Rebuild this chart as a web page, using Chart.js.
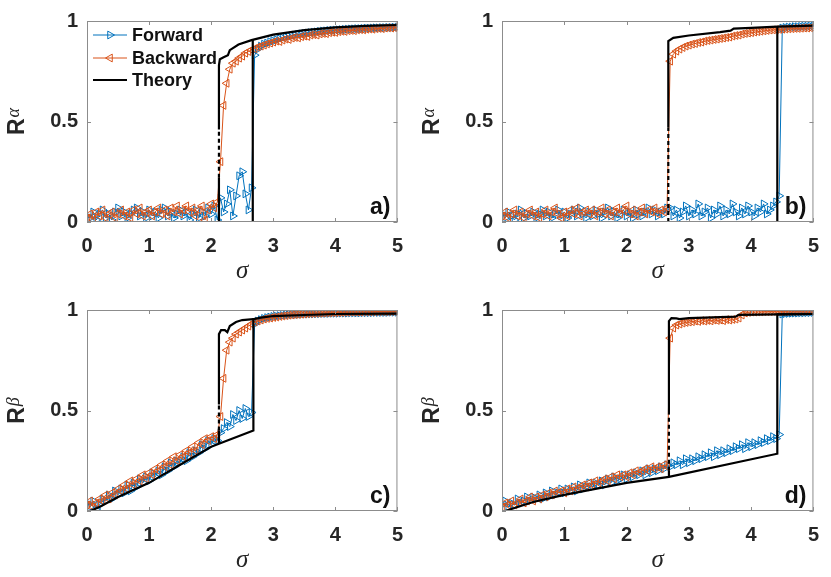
<!DOCTYPE html>
<html>
<head>
<meta charset="utf-8">
<script src="https://cdn.jsdelivr.net/npm/chart.js@4.4.1/dist/chart.umd.min.js"></script>
<style>
  body { margin: 0; background: #fff; width: 831px; height: 577px; position: relative; overflow: hidden; }
  canvas { position: absolute; }
</style>
</head>
<body>
<canvas id="pa" width="415" height="288" style="left:0;top:0"></canvas>
<canvas id="pb" width="416" height="288" style="left:415px;top:0"></canvas>
<canvas id="pc" width="415" height="288" style="left:0;top:289px"></canvas>
<canvas id="pd" width="416" height="288" style="left:415px;top:289px"></canvas>
<script>
// sigma (valeurs communes aux series mesurees)
const sigma = [
  0,0.05,0.1,0.15,0.2,0.25,0.3,0.35,0.4,0.45,
  0.5,0.55,0.6,0.65,0.7,0.75,0.8,0.85,0.9,0.95,
  1,1.05,1.1,1.15,1.2,1.25,1.3,1.35,1.4,1.45,
  1.5,1.55,1.6,1.65,1.7,1.75,1.8,1.85,1.9,1.95,
  2,2.05,2.1,2.15,2.2,2.25,2.3,2.35,2.4,2.45,
  2.5,2.55,2.6,2.65,2.7,2.75,2.8,2.85,2.9,2.95,
  3,3.05,3.1,3.15,3.2,3.25,3.3,3.35,3.4,3.45,
  3.5,3.55,3.6,3.65,3.7,3.75,3.8,3.85,3.9,3.95,
  4,4.05,4.1,4.15,4.2,4.25,4.3,4.35,4.4,4.45,
  4.5,4.55,4.6,4.65,4.7,4.75,4.8,4.85,4.9,4.95,
  5
];
const xTicks = [0, 1, 2, 3, 4, 5];
const yTicks = [0, 0.5, 1];

// panel a) R alpha
const fwdA = [
  0.03,0.02,0.05,0.01,0.04,0.06,0.02,0.04,0.01,0.05,
  0.07,0.03,0.05,0.02,0.04,0.06,0.07,0.03,0.05,0.02,
  0.06,0.03,0.05,0.02,0.06,0.07,0.03,0.05,0.02,0.04,
  0.06,0.03,0.05,0.01,0.04,0.06,0.02,0.05,0.03,0.07,
  0.04,0.08,0.01,0.12,0.05,0.09,0.16,0.03,0.13,0.23,
  0.25,0.14,0.06,0.17,0.83,0.86,0.875,0.885,0.89,0.897,
  0.902,0.907,0.912,0.916,0.92,0.924,0.927,0.93,0.933,0.936,
  0.938,0.94,0.942,0.944,0.946,0.948,0.95,0.951,0.953,0.954,
  0.955,0.956,0.957,0.958,0.959,0.96,0.961,0.962,0.962,0.963,
  0.964,0.964,0.965,0.966,0.966,0.967,0.967,0.968,0.968,0.969,0.97
];
const bwdA = [
  0.02,0.04,0.01,0.05,0.03,0.06,0.02,0.04,0.05,0.02,
  0.04,0.06,0.03,0.05,0.02,0.06,0.04,0.07,0.03,0.05,
  0.06,0.03,0.05,0.07,0.04,0.06,0.03,0.07,0.05,0.08,
  0.04,0.06,0.08,0.05,0.07,0.03,0.06,0.08,0.01,0.06,
  0.09,0.07,0.1,0.3,0.58,0.69,0.76,0.79,0.8,0.815,
  0.825,0.84,0.848,0.856,0.862,0.87,0.875,0.88,0.886,0.89,
  0.895,0.9,0.898,0.905,0.91,0.908,0.915,0.918,0.916,0.922,
  0.925,0.923,0.93,0.932,0.93,0.936,0.938,0.937,0.942,0.944,
  0.943,0.947,0.949,0.948,0.952,0.953,0.952,0.956,0.957,0.956,
  0.959,0.96,0.959,0.962,0.963,0.962,0.965,0.966,0.965,0.967,0.968
];
const thLowAx = [0, 2.67, 2.67];
const thLowAy = [0, 0, 0.905];
const thUpAx = [2.125, 2.125, 2.14, 2.2, 2.27, 2.3, 2.44, 2.65, 3.0, 3.5, 4.0, 4.5, 5.0];
const thUpAy = [0.46, 0.78, 0.81, 0.82, 0.83, 0.855, 0.883, 0.905, 0.932, 0.955, 0.968, 0.976, 0.98];
const thStubAx = [2.125, 2.125];
const thStubAy = [0, 0.22];
const thDashAx = [2.125, 2.125];
const thDashAy = [0.22, 0.46];

// panel b) R alpha
const fwdB = [
  0.04,0.02,0.05,0.03,0.01,0.04,0.06,0.02,0.04,0.03,
  0.05,0.02,0.04,0.06,0.03,0.05,0.02,0.04,0.06,0.03,
  0.05,0.02,0.04,0.06,0.03,0.07,0.04,0.02,0.05,0.03,
  0.06,0.04,0.02,0.05,0.07,0.03,0.05,0.02,0.04,0.06,
  0.03,0.05,0.02,0.06,0.04,0.03,0.05,0.07,0.04,0.06,
  0.03,0.05,0.04,0.07,0.07,0.03,0.06,0.02,0.05,0.08,
  0.03,0.06,0.04,0.09,0.03,0.05,0.07,0.02,0.06,0.04,
  0.08,0.03,0.06,0.04,0.09,0.05,0.03,0.07,0.04,0.08,
  0.05,0.03,0.07,0.05,0.09,0.04,0.06,0.08,0.1,0.13,
  0.965,0.968,0.97,0.97,0.972,0.972,0.973,0.974,0.974,0.975,0.975
];
const bwdB = [
  0.03,0.05,0.02,0.04,0.06,0.03,0.05,0.02,0.04,0.06,
  0.03,0.05,0.02,0.04,0.06,0.03,0.05,0.07,0.04,0.02,
  0.05,0.03,0.06,0.04,0.07,0.03,0.05,0.06,0.04,0.06,
  0.03,0.05,0.07,0.04,0.06,0.03,0.05,0.07,0.04,0.06,
  0.08,0.04,0.06,0.03,0.05,0.07,0.04,0.06,0.05,0.07,
  0.04,0.06,0.05,0.07,0.8,0.835,0.85,0.86,0.868,0.875,
  0.88,0.885,0.888,0.893,0.895,0.9,0.903,0.905,0.908,0.91,
  0.913,0.915,0.918,0.92,0.925,0.928,0.93,0.935,0.938,0.94,
  0.942,0.945,0.947,0.949,0.951,0.953,0.955,0.956,0.957,0.958,
  0.959,0.96,0.961,0.962,0.963,0.963,0.964,0.965,0.965,0.966,0.966
];
const thLowBx = [0, 4.42, 4.42];
const thLowBy = [0, 0, 0.972];
const thUpBx = [2.67, 2.67, 2.75, 3.0, 3.5, 3.67, 3.72, 4.0, 4.42, 5.0];
const thUpBy = [0.47, 0.9, 0.916, 0.928, 0.945, 0.952, 0.962, 0.966, 0.972, 0.977];
const thStubBx = [];
const thStubBy = [];
const thDashBx = [2.67, 2.67];
const thDashBy = [0, 0.47];

// panel c) R beta
const fwdC = [
  0.04,0.02,0.05,0.01,0.03,0.06,0.05,0.08,0.06,0.1,
  0.08,0.11,0.09,0.13,0.1,0.14,0.12,0.16,0.14,0.17,
  0.15,0.19,0.17,0.2,0.18,0.22,0.2,0.24,0.22,0.25,
  0.24,0.27,0.25,0.29,0.27,0.3,0.29,0.33,0.31,0.35,
  0.33,0.36,0.35,0.39,0.41,0.44,0.42,0.48,0.45,0.5,
  0.46,0.51,0.47,0.49,0.93,0.945,0.952,0.958,0.962,0.965,
  0.968,0.97,0.972,0.973,0.975,0.976,0.977,0.978,0.978,0.979,
  0.98,0.98,0.981,0.981,0.982,0.982,0.983,0.983,0.983,0.984,
  0.984,0.984,0.985,0.985,0.985,0.986,0.986,0.986,0.986,0.987,
  0.987,0.987,0.987,0.988,0.988,0.988,0.988,0.988,0.989,0.989,0.989
];
const bwdC = [
  0.03,0.05,0.02,0.04,0.06,0.05,0.08,0.06,0.09,0.08,
  0.11,0.1,0.13,0.11,0.15,0.13,0.16,0.15,0.18,0.16,
  0.19,0.18,0.21,0.2,0.23,0.22,0.25,0.23,0.27,0.25,
  0.28,0.27,0.3,0.29,0.32,0.3,0.34,0.33,0.36,0.35,
  0.37,0.36,0.38,0.47,0.66,0.8,0.84,0.86,0.88,0.89,
  0.9,0.91,0.92,0.93,0.94,0.945,0.95,0.955,0.958,0.96,
  0.963,0.965,0.968,0.97,0.972,0.974,0.975,0.977,0.978,0.979,
  0.98,0.981,0.982,0.983,0.984,0.984,0.985,0.986,0.986,0.987,
  0.987,0.988,0.988,0.989,0.989,0.99,0.99,0.99,0.99,0.991,
  0.991,0.991,0.991,0.992,0.992,0.992,0.992,0.992,0.993,0.993,0.993
];
const thLowCx = [0.05, 0.2, 0.5, 1.0, 1.5, 2.0, 2.125, 2.68, 2.68, 2.8, 3.0, 3.5, 4.0, 5.0];
const thLowCy = [0, 0.02, 0.07, 0.14, 0.23, 0.32, 0.335, 0.4, 0.955, 0.962, 0.97, 0.975, 0.98, 0.982];
const thUpCx = [2.125, 2.125, 2.16, 2.22, 2.26, 2.3, 2.4, 2.5, 2.68];
const thUpCy = [0.53, 0.88, 0.9, 0.9, 0.89, 0.92, 0.94, 0.95, 0.955];
const thStubCx = [2.125, 2.125];
const thStubCy = [0.335, 0.4];
const thDashCx = [2.125, 2.125];
const thDashCy = [0.4, 0.53];

// panel d) R beta
const fwdD = [
  0.03,0.05,0.02,0.04,0.03,0.06,0.04,0.05,0.07,0.05,
  0.07,0.06,0.08,0.06,0.09,0.07,0.1,0.08,0.09,0.11,
  0.09,0.11,0.1,0.12,0.1,0.13,0.11,0.12,0.14,0.12,
  0.14,0.13,0.15,0.13,0.16,0.14,0.17,0.15,0.16,0.18,
  0.16,0.18,0.17,0.19,0.18,0.2,0.18,0.21,0.19,0.21,
  0.2,0.22,0.21,0.23,0.22,0.24,0.23,0.25,0.23,0.26,
  0.24,0.26,0.25,0.27,0.26,0.28,0.27,0.29,0.27,0.3,
  0.28,0.3,0.29,0.31,0.3,0.32,0.31,0.33,0.31,0.34,
  0.32,0.34,0.33,0.35,0.34,0.36,0.35,0.37,0.36,0.38,
  0.98,0.982,0.983,0.984,0.985,0.985,0.986,0.986,0.987,0.987,0.988
];
const bwdD = [
  0.02,0.04,0.03,0.05,0.03,0.04,0.06,0.04,0.05,0.07,
  0.05,0.07,0.06,0.08,0.07,0.09,0.08,0.1,0.09,0.1,
  0.09,0.11,0.1,0.12,0.11,0.12,0.13,0.12,0.14,0.13,
  0.15,0.14,0.15,0.16,0.15,0.17,0.16,0.18,0.17,0.18,
  0.17,0.19,0.18,0.2,0.19,0.2,0.21,0.2,0.22,0.21,
  0.22,0.21,0.23,0.22,0.86,0.91,0.925,0.93,0.935,0.938,
  0.94,0.942,0.945,0.943,0.947,0.945,0.948,0.946,0.95,0.948,
  0.95,0.947,0.952,0.95,0.953,0.955,0.96,0.975,0.985,0.988,
  0.99,0.99,0.991,0.991,0.992,0.992,0.992,0.993,0.993,0.993,
  0.993,0.993,0.994,0.994,0.994,0.994,0.994,0.995,0.995,0.995,0.995
];
const thLowDx = [0.05, 0.5, 1.0, 1.5, 2.0, 2.68, 4.42, 4.42, 5.0];
const thLowDy = [0, 0.045, 0.08, 0.11, 0.14, 0.17, 0.285, 0.978, 0.98];
const thUpDx = [2.68, 2.68, 2.72, 2.8, 2.85, 3.0, 3.5, 3.75, 3.8, 4.42, 5.0];
const thUpDy = [0.48, 0.945, 0.96, 0.958, 0.955, 0.96, 0.965, 0.967, 0.976, 0.978, 0.98];
const thStubDx = [2.68, 2.68];
const thStubDy = [0.17, 0.2];
const thDashDx = [2.68, 2.68];
const thDashDy = [0.2, 0.48];

const BLUE = '#0072BD';
const ORANGE = '#D95319';
const AXIS = '#8c8c8c';
const SANS = '"Liberation Sans", Arial, Helvetica, sans-serif';
const SERIF = '"Liberation Serif", "Times New Roman", serif';

function pts(xs, ys) {
  return xs.map((x, i) => ({ x: x, y: ys[i] }));
}

// triangle ouvert comme les marqueurs de Chart.js
function tri(ctx, cx, cy, r, rot) {
  ctx.beginPath();
  let a = rot * Math.PI / 180;
  for (let k = 0; k < 3; k++) {
    const px = cx + Math.sin(a) * r, py = cy - Math.cos(a) * r;
    if (k === 0) ctx.moveTo(px, py); else ctx.lineTo(px, py);
    a += 2 * Math.PI / 3;
  }
  ctx.closePath();
  ctx.stroke();
}

// cadre, graduations internes, titres, lettre du panneau, legende
const decor = {
  id: 'decor',
  afterDraw(chart, args, o) {
    const { ctx, chartArea: a, scales: { x, y } } = chart;
    ctx.save();
    ctx.strokeStyle = AXIS;
    ctx.lineWidth = 1;
    ctx.strokeRect(a.left + 0.5, a.top + 0.5, a.right - a.left - 1, a.bottom - a.top - 1);
    ctx.beginPath();
    x.ticks.forEach(t => {
      const px = Math.round(x.getPixelForValue(t.value)) + 0.5;
      ctx.moveTo(px, a.bottom); ctx.lineTo(px, a.bottom - 4);
      ctx.moveTo(px, a.top); ctx.lineTo(px, a.top + 4);
    });
    y.ticks.forEach(t => {
      const py = Math.round(y.getPixelForValue(t.value)) + 0.5;
      ctx.moveTo(a.left, py); ctx.lineTo(a.left + 4, py);
      ctx.moveTo(a.right, py); ctx.lineTo(a.right - 4, py);
    });
    ctx.stroke();

    // sigma
    ctx.fillStyle = '#262626';
    ctx.font = 'italic 25px ' + SERIF;
    ctx.textAlign = 'center';
    ctx.textBaseline = 'alphabetic';
    ctx.fillText('σ', (a.left + a.right) / 2, a.bottom + 56);

    // R avec exposant
    ctx.save();
    ctx.translate(24, (a.top + a.bottom) / 2);
    ctx.rotate(-Math.PI / 2);
    ctx.font = 'bold 23px ' + SANS;
    const wR = ctx.measureText('R').width;
    ctx.font = 'italic 18px ' + SERIF;
    const wG = ctx.measureText(o.greek).width;
    const x0 = -(wR + 1 + wG) / 2;
    ctx.textAlign = 'left';
    ctx.font = 'bold 23px ' + SANS;
    ctx.fillText('R', x0, 0);
    ctx.font = 'italic 18px ' + SERIF;
    ctx.fillText(o.greek, x0 + wR + 1, -5);
    ctx.restore();

    // lettre du panneau
    ctx.font = 'bold 23px ' + SANS;
    ctx.textAlign = 'right';
    ctx.fillStyle = '#111';
    ctx.fillText(o.tag, a.right - 7, a.bottom - 8);

    if (o.legend) {
      const rows = [
        { label: 'Forward', color: BLUE, rot: 90, y: 35 },
        { label: 'Backward', color: ORANGE, rot: -90, y: 58 },
        { label: 'Theory', color: '#000', rot: null, y: 80 }
      ];
      ctx.textAlign = 'left';
      ctx.textBaseline = 'middle';
      ctx.font = 'bold 18px ' + SANS;
      rows.forEach(r => {
        ctx.strokeStyle = r.color;
        ctx.lineWidth = r.rot === null ? 2 : 1;
        ctx.beginPath();
        ctx.moveTo(a.left + 6, r.y);
        ctx.lineTo(a.left + 40, r.y);
        ctx.stroke();
        if (r.rot !== null) {
          ctx.lineWidth = 1;
          tri(ctx, a.left + 23, r.y, 4.5, r.rot);
        }
        ctx.fillStyle = '#111';
        ctx.fillText(r.label, a.left + 45, r.y + 1);
      });
    }
    ctx.restore();
  }
};

function makePanel(id, p) {
  const measured = (data, color, rot, order) => ({
    data: data,
    showLine: true,
    borderColor: color,
    borderWidth: 1,
    pointStyle: 'triangle',
    rotation: rot,
    pointRadius: 4.5,
    pointBorderWidth: 1,
    pointBorderColor: color,
    pointBackgroundColor: 'rgba(0,0,0,0)',
    order: order
  });
  const theory = (data, dash, order) => ({
    data: data,
    showLine: true,
    borderColor: '#000',
    borderWidth: 2.2,
    borderDash: dash,
    pointRadius: 0,
    order: order
  });
  const tickFont = { family: SANS, size: 20, weight: 'bold' };
  new Chart(document.getElementById(id), {
    type: 'scatter',
    data: {
      datasets: [
        theory(pts(p.dashX, p.dashY), [4, 3], 0),
        theory(pts(p.lowX, p.lowY), [], 1),
        theory(pts(p.upX, p.upY), [], 1),
        theory(pts(p.stubX, p.stubY), [], 1),
        measured(pts(sigma, p.bwd), ORANGE, -90, 2),
        measured(pts(sigma, p.fwd), BLUE, 90, 3)
      ]
    },
    options: {
      responsive: false,
      animation: false,
      events: [],
      layout: { padding: { left: 0, right: 15, top: 16, bottom: 0 } },
      plugins: {
        legend: { display: false },
        tooltip: { enabled: false },
        decor: { greek: p.greek, tag: p.tag, legend: p.legend }
      },
      scales: {
        x: {
          type: 'linear', min: 0, max: 5,
          afterBuildTicks: s => { s.ticks = xTicks.map(v => ({ value: v })); },
          ticks: { font: tickFont, color: '#262626', padding: 12, callback: v => String(v), maxRotation: 0 },
          grid: { display: false, drawTicks: false },
          border: { display: false },
          afterFit: s => { s.height = 66; }
        },
        y: {
          type: 'linear', min: 0, max: 1,
          afterBuildTicks: s => { s.ticks = yTicks.map(v => ({ value: v })); },
          ticks: { font: tickFont, color: '#262626', padding: 9, callback: v => String(v) },
          grid: { display: false, drawTicks: false },
          border: { display: false },
          afterFit: s => { s.width = 87; }
        }
      }
    },
    plugins: [decor]
  });
}

makePanel('pa', { fwd: fwdA, bwd: bwdA, lowX: thLowAx, lowY: thLowAy, upX: thUpAx, upY: thUpAy,
  stubX: thStubAx, stubY: thStubAy, dashX: thDashAx, dashY: thDashAy, greek: 'α', tag: 'a)', legend: true });
makePanel('pb', { fwd: fwdB, bwd: bwdB, lowX: thLowBx, lowY: thLowBy, upX: thUpBx, upY: thUpBy,
  stubX: thStubBx, stubY: thStubBy, dashX: thDashBx, dashY: thDashBy, greek: 'α', tag: 'b)', legend: false });
makePanel('pc', { fwd: fwdC, bwd: bwdC, lowX: thLowCx, lowY: thLowCy, upX: thUpCx, upY: thUpCy,
  stubX: thStubCx, stubY: thStubCy, dashX: thDashCx, dashY: thDashCy, greek: 'β', tag: 'c)', legend: false });
makePanel('pd', { fwd: fwdD, bwd: bwdD, lowX: thLowDx, lowY: thLowDy, upX: thUpDx, upY: thUpDy,
  stubX: thStubDx, stubY: thStubDy, dashX: thDashDx, dashY: thDashDy, greek: 'β', tag: 'd)', legend: false });
</script>
</body>
</html>
